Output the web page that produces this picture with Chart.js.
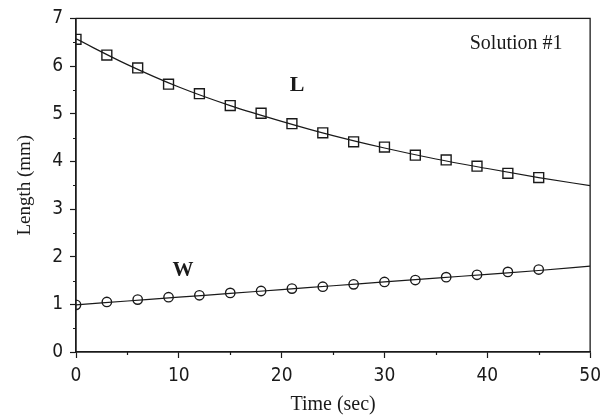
<!DOCTYPE html>
<html>
<head>
<meta charset="utf-8">
<script src="https://cdn.jsdelivr.net/npm/chart.js@4.4.0/dist/chart.umd.min.js"></script>
<style>
  html, body { margin: 0; padding: 0; background: #fff; }
  #wrap { width: 608px; height: 417px; }
</style>
</head>
<body>
<div id="wrap"><canvas id="c" width="608" height="417"></canvas></div>
<script>
// ---- data ----
const sampleTimes = [0, 3, 6, 9, 12, 15, 18, 21, 24, 27, 30, 33, 36, 39, 42, 45];
const lengthL = [6.56, 6.23, 5.96, 5.62, 5.42, 5.17, 5.01, 4.79, 4.60, 4.41, 4.30, 4.13, 4.03, 3.90, 3.75, 3.66];
const widthW  = [0.99, 1.05, 1.10, 1.15, 1.19, 1.24, 1.28, 1.33, 1.37, 1.42, 1.47, 1.51, 1.57, 1.62, 1.68, 1.73];
const curveTimes = [0, 5, 10, 15, 20, 25, 30, 35, 40, 45, 50];
const curveL = [6.57, 6.03, 5.56, 5.17, 4.84, 4.54, 4.28, 4.05, 3.85, 3.66, 3.49];
const curveW = [0.99, 1.07, 1.15, 1.23, 1.31, 1.39, 1.47, 1.55, 1.63, 1.71, 1.80];
const xTicks = [0, 10, 20, 30, 40, 50];
const yTicks = [0, 1, 2, 3, 4, 5, 6, 7];
const xTitle = 'Time (sec)';
const yTitle = 'Length (mm)';
const notes = [
  { text: 'L', x: 21.5, y: 5.6, bold: true, size: 22 },
  { text: 'W', x: 10.4, y: 1.7, bold: true, size: 21 },
  { text: 'Solution #1', x: 42.8, y: 6.47, bold: false, size: 20 }
];

const pts = (xs, ys) => xs.map((x, i) => ({ x: x, y: ys[i] }));
const INK = '#1a1a1a';
const tickFont = { family: "'Liberation Sans Narrow', 'DejaVu Sans Condensed', sans-serif", size: 19 };
const serif = "'Liberation Serif', 'DejaVu Serif', serif";

const framePlugin = {
  id: 'frame',
  afterDraw(chart) {
    const { ctx, chartArea: a, scales: { x, y } } = chart;
    ctx.save();
    ctx.strokeStyle = INK;
    ctx.lineWidth = 1.3;
    ctx.strokeRect(a.left, a.top, a.right - a.left, a.bottom - a.top);
    // minor ticks
    ctx.lineWidth = 1.2;
    ctx.beginPath();
    for (let v = 5; v < 50; v += 10) {
      const px = Math.round(x.getPixelForValue(v)) + 0.5;
      ctx.moveTo(px, a.bottom); ctx.lineTo(px, a.bottom + 3);
    }
    for (let v = 0.5; v < 7; v += 1) {
      const py = Math.round(y.getPixelForValue(v)) + 0.5;
      ctx.moveTo(a.left, py); ctx.lineTo(a.left - 3, py);
    }
    ctx.stroke();
    // text notes
    ctx.fillStyle = INK;
    ctx.textAlign = 'center';
    ctx.textBaseline = 'middle';
    notes.forEach(n => {
      ctx.font = (n.bold ? 'bold ' : '') + n.size + 'px ' + serif;
      ctx.fillText(n.text, x.getPixelForValue(n.x), y.getPixelForValue(n.y));
    });
    ctx.restore();
  }
};

new Chart(document.getElementById('c'), {
  type: 'line',
  data: {
    datasets: [
      { data: pts(curveTimes, curveL), borderColor: INK, borderWidth: 1.2, pointRadius: 0, cubicInterpolationMode: 'monotone', fill: false },
      { data: pts(curveTimes, curveW), borderColor: INK, borderWidth: 1.2, pointRadius: 0, cubicInterpolationMode: 'monotone', fill: false },
      { data: pts(sampleTimes, lengthL), showLine: false, pointStyle: 'rect', pointRadius: 7, borderColor: INK, pointBorderWidth: 1.4, backgroundColor: 'rgba(0,0,0,0)' },
      { data: pts(sampleTimes, widthW), showLine: false, pointStyle: 'circle', pointRadius: 4.7, borderColor: INK, pointBorderWidth: 1.4, backgroundColor: 'rgba(0,0,0,0)' }
    ]
  },
  options: {
    responsive: false,
    animation: false,
    layout: { padding: { top: 14, right: 17, left: 0, bottom: 0 } },
    plugins: { legend: { display: false }, tooltip: { enabled: false } },
    scales: {
      x: {
        type: 'linear', min: 0, max: 50,
        afterBuildTicks: s => { s.ticks = xTicks.map(v => ({ value: v })); },
        afterFit: s => { s.height = 65; },
        grid: { drawOnChartArea: false, drawTicks: true, tickLength: 6, color: INK, tickWidth: 1.2 },
        border: { display: true, color: INK, width: 1.3 },
        ticks: { color: INK, font: tickFont, padding: 7, maxRotation: 0 },
        title: { display: true, text: xTitle, color: INK, font: { family: serif, size: 20 }, padding: { top: 0, bottom: 0 } }
      },
      y: {
        type: 'linear', min: 0, max: 7,
        afterBuildTicks: s => { s.ticks = yTicks.map(v => ({ value: v })); },
        afterFit: s => { s.width = 76; },
        grid: { drawOnChartArea: false, drawTicks: true, tickLength: 6, color: INK, tickWidth: 1.2 },
        border: { display: true, color: INK, width: 1.3 },
        ticks: { color: INK, font: tickFont, padding: 7 },
        title: { display: true, text: yTitle, color: INK, font: { family: serif, size: 19 }, padding: { top: 14, bottom: 0 } }
      }
    }
  },
  plugins: [framePlugin]
});
</script>
</body>
</html>
